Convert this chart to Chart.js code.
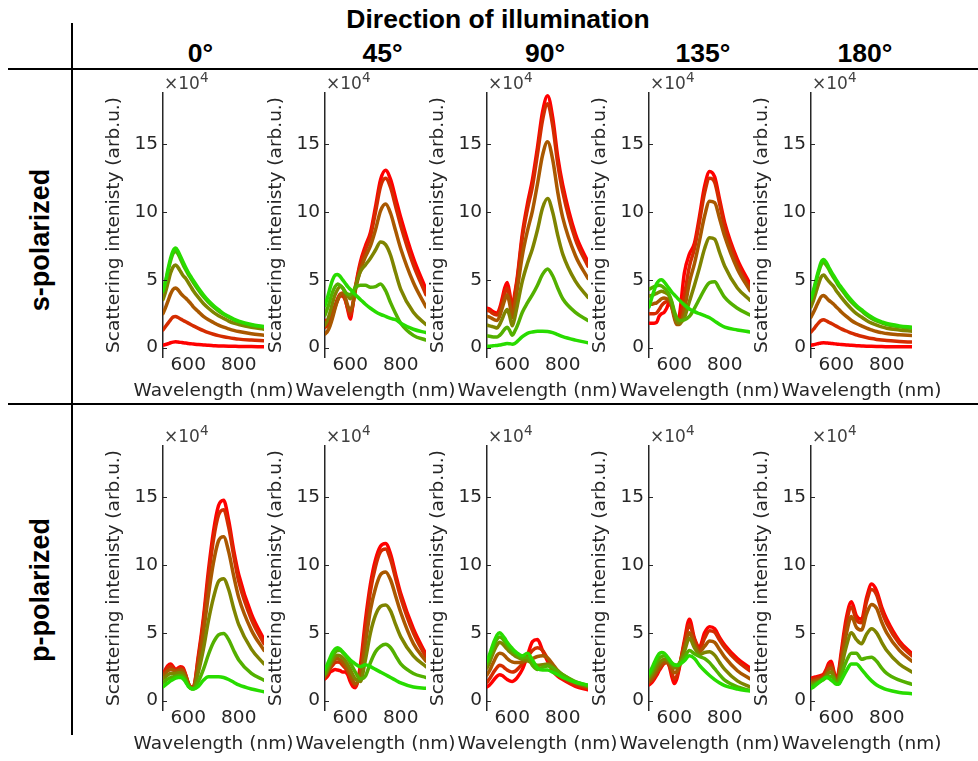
<!DOCTYPE html>
<html><head><meta charset="utf-8">
<script src="https://cdn.jsdelivr.net/npm/chart.js@4.4.1/dist/chart.umd.min.js"></script>
<style>
html,body{margin:0;padding:0;background:#fff;}
#root{position:relative;width:978px;height:761px;overflow:hidden;background:#fff;}
.hd{position:absolute;font-family:"Liberation Sans",Arial,sans-serif;font-weight:bold;color:#000;white-space:nowrap;transform:translate(-50%,-50%);line-height:1;font-size:26.5px;}
.rl{position:absolute;font-family:"Liberation Sans",Arial,sans-serif;font-weight:bold;color:#000;white-space:nowrap;transform:translate(-50%,-50%) rotate(-90deg);line-height:1;font-size:27px;}
.xt{position:absolute;font-family:"DejaVu Sans";font-size:18.5px;color:#262626;white-space:nowrap;transform:translate(-50%,-50%);line-height:1;}
.ex{position:absolute;font-family:"DejaVu Sans";font-size:17px;color:#404040;white-space:nowrap;line-height:17px;}
.ex span{font-size:13.5px;position:relative;top:-7px;}
.ln{position:absolute;background:#000;}
canvas{position:absolute;}
</style></head><body><div id="root"></div><script>
const wavelengths=[500,510,520,530,540,550,560,570,580,590,600,610,620,640,660,680,700,720,740,760,780,800,850,900];
const directions=['0°','45°','90°','135°','180°'];
const polarizations=['s-polarized','p-polarized'];
const yTicks=[0,5,10,15];
const xTicks=[600,800];

const sPol0=[
[0.18,0.22,0.28,0.35,0.40,0.42,0.40,0.38,0.35,0.33,0.30,0.28,0.26,0.22,0.19,0.16,0.14,0.12,0.11,0.10,0.09,0.08,0.07,0.06],
[1.30,1.55,1.80,2.05,2.25,2.30,2.22,2.10,2.00,1.90,1.80,1.70,1.60,1.42,1.25,1.10,0.98,0.88,0.80,0.73,0.67,0.62,0.55,0.50],
[2.50,2.95,3.45,3.95,4.30,4.40,4.25,4.00,3.80,3.65,3.45,3.25,3.00,2.65,2.30,2.05,1.85,1.65,1.50,1.38,1.27,1.18,1.02,0.90],
[3.55,4.10,4.80,5.50,5.95,6.10,5.90,5.60,5.30,5.10,4.80,4.50,4.20,3.70,3.25,2.90,2.60,2.35,2.15,1.95,1.80,1.70,1.50,1.35],
[4.10,4.80,5.65,6.40,6.95,7.10,6.90,6.50,6.10,5.75,5.40,5.10,4.80,4.25,3.75,3.35,3.00,2.70,2.45,2.25,2.05,1.90,1.65,1.50],
[4.20,4.90,5.80,6.60,7.15,7.35,7.10,6.70,6.30,5.90,5.55,5.25,4.95,4.40,3.90,3.45,3.10,2.80,2.50,2.30,2.10,1.95,1.70,1.55]];
const sPol45=[
[2.0,2.0,2.2,2.6,3.1,3.6,3.95,4.0,3.6,2.8,2.1,3.1,4.4,6.3,7.5,8.5,10.4,12.4,13.1,12.4,11.0,9.6,6.6,4.3],
[1.5,1.6,1.9,2.4,3.0,3.5,3.8,3.8,3.5,2.9,2.4,3.1,4.3,6.1,7.2,8.2,10.0,11.9,12.5,11.8,10.4,9.0,6.1,3.9],
[1.0,1.2,1.6,2.2,2.9,3.5,3.9,4.0,3.7,3.1,2.7,3.2,4.2,5.7,6.7,7.5,8.7,10.1,10.6,9.9,8.6,7.3,4.8,3.0],
[1.65,2.0,2.6,3.3,3.9,4.3,4.5,4.4,4.1,3.8,3.6,3.9,4.5,5.6,6.1,6.6,7.2,7.8,7.6,6.8,5.5,4.3,2.6,1.7],
[2.4,2.9,3.5,4.1,4.5,4.7,4.6,4.4,4.1,3.95,3.9,4.1,4.4,4.6,4.6,4.45,4.5,4.7,4.2,3.3,2.5,1.8,0.9,0.55],
[3.1,3.7,4.4,5.0,5.35,5.4,5.25,5.0,4.75,4.5,4.3,4.1,3.9,3.55,3.2,2.9,2.65,2.45,2.3,2.15,2.05,1.8,1.35,1.1]];
const sPol90=[
[2.9,2.85,2.7,2.6,2.55,2.9,3.6,4.4,4.8,4.0,2.9,4.0,5.2,8.4,10.6,12.4,14.8,17.4,18.6,17.0,14.1,12.0,8.4,6.3],
[2.75,2.7,2.55,2.45,2.4,2.7,3.3,4.0,4.4,3.7,2.7,3.8,5.0,8.1,10.2,11.9,14.3,16.8,18.0,16.4,13.6,11.5,8.0,6.0],
[2.3,2.25,2.15,2.05,2.0,2.3,2.9,3.5,3.9,3.2,2.2,3.1,4.3,6.8,8.6,10.1,12.1,14.2,15.2,13.9,11.5,9.6,6.8,5.1],
[1.65,1.6,1.55,1.5,1.45,1.7,2.1,2.55,2.8,2.3,1.6,2.2,3.1,4.9,6.2,7.3,8.7,10.3,11.0,10.0,8.3,6.9,4.9,3.7],
[0.85,0.83,0.8,0.78,0.77,0.9,1.1,1.35,1.5,1.25,0.9,1.2,1.6,2.6,3.3,3.9,4.6,5.4,5.8,5.3,4.4,3.6,2.6,2.0],
[0.1,0.1,0.12,0.14,0.15,0.18,0.22,0.26,0.3,0.28,0.25,0.3,0.45,0.8,1.05,1.15,1.2,1.2,1.18,1.1,0.95,0.8,0.55,0.35]];
const sPol135=[
[1.8,1.8,1.8,1.85,2.3,2.5,2.6,2.9,3.3,3.0,2.4,1.8,2.3,5.5,6.9,7.7,9.7,11.9,13.0,12.6,10.9,9.2,6.5,4.7],
[2.5,2.5,2.5,2.55,2.8,3.1,3.3,3.4,3.5,3.2,2.4,1.8,1.9,3.8,6.0,7.3,9.3,11.4,12.5,12.2,10.6,8.9,6.2,4.4],
[3.2,3.2,3.25,3.3,3.45,3.6,3.65,3.6,3.5,3.0,2.2,1.7,1.7,2.8,4.8,6.2,7.9,9.7,10.8,10.7,9.5,8.2,5.8,4.2],
[3.8,3.85,3.9,4.0,4.1,4.15,4.1,4.0,3.8,3.3,2.5,1.9,1.8,2.2,3.4,4.6,5.9,7.3,8.1,8.0,7.0,6.0,4.4,3.5],
[4.3,4.4,4.5,4.55,4.6,4.55,4.4,4.2,3.9,3.4,2.7,2.2,2.0,2.05,2.3,2.9,3.6,4.3,4.8,4.85,4.3,3.7,2.9,2.4],
[3.0,3.6,4.2,4.7,4.95,5.0,4.85,4.6,4.35,4.1,3.9,3.7,3.5,3.15,2.85,2.65,2.5,2.35,2.2,1.95,1.7,1.5,1.3,1.15]];
const sPol180=[
[0.17,0.2,0.25,0.3,0.34,0.35,0.34,0.32,0.3,0.28,0.26,0.24,0.22,0.19,0.16,0.14,0.12,0.1,0.09,0.08,0.07,0.065,0.055,0.05],
[1.15,1.35,1.6,1.82,2.0,2.05,1.98,1.87,1.78,1.68,1.58,1.48,1.38,1.22,1.06,0.94,0.83,0.74,0.66,0.6,0.55,0.51,0.45,0.4],
[2.25,2.6,3.0,3.4,3.75,3.85,3.7,3.5,3.35,3.2,3.0,2.82,2.63,2.3,2.0,1.78,1.6,1.43,1.3,1.18,1.1,1.03,0.95,0.88],
[3.0,3.5,4.1,4.7,5.2,5.35,5.15,4.9,4.7,4.5,4.2,3.95,3.7,3.25,2.85,2.5,2.25,2.0,1.8,1.65,1.52,1.42,1.3,1.2],
[3.5,4.1,4.85,5.55,6.1,6.3,6.1,5.8,5.45,5.15,4.85,4.55,4.3,3.8,3.35,3.0,2.7,2.4,2.15,1.97,1.83,1.7,1.53,1.42],
[3.6,4.25,5.0,5.7,6.3,6.5,6.3,5.95,5.6,5.3,5.0,4.7,4.45,3.95,3.5,3.1,2.8,2.5,2.25,2.05,1.9,1.77,1.6,1.5]];
const pPol0=[
[2.0,2.3,2.6,2.7,2.5,2.3,2.4,2.5,2.4,1.9,1.3,1.0,1.0,3.3,6.1,9.6,12.5,14.4,14.8,13.3,11.1,9.3,6.4,4.5],
[1.9,2.2,2.45,2.55,2.4,2.25,2.3,2.4,2.3,1.85,1.3,1.0,1.0,3.1,5.8,9.1,11.9,13.7,14.1,12.8,10.7,8.8,6.0,4.2],
[1.8,2.0,2.2,2.3,2.25,2.15,2.2,2.25,2.15,1.75,1.25,0.95,0.95,2.7,5.0,7.8,10.2,11.8,12.1,11.0,9.2,7.6,5.2,3.7],
[1.6,1.75,1.9,2.0,2.0,2.0,2.05,2.05,1.95,1.6,1.15,0.9,0.9,2.1,3.8,5.9,7.6,8.8,9.0,8.2,6.8,5.6,3.8,2.7],
[1.3,1.45,1.6,1.7,1.75,1.8,1.85,1.85,1.75,1.45,1.1,0.9,0.85,1.4,2.3,3.4,4.3,4.85,4.95,4.5,3.7,3.0,2.0,1.5],
[1.0,1.15,1.3,1.45,1.55,1.65,1.7,1.7,1.6,1.35,1.05,0.9,0.85,1.05,1.5,1.75,1.75,1.75,1.7,1.55,1.35,1.15,0.85,0.65]];
const pPol45=[
[1.6,1.8,2.1,2.2,2.3,2.25,2.2,2.1,2.1,1.9,1.4,1.05,0.95,2.6,5.9,8.6,10.4,11.4,11.6,10.8,9.3,7.9,5.3,3.4],
[1.7,2.0,2.35,2.6,2.8,2.85,2.8,2.6,2.4,2.1,1.7,1.3,1.1,2.2,5.3,8.1,9.9,11.0,11.2,10.4,9.0,7.6,5.0,3.2],
[1.8,2.1,2.5,2.85,3.05,3.1,3.0,2.85,2.6,2.3,1.9,1.5,1.25,1.8,4.2,6.7,8.3,9.3,9.5,8.9,7.7,6.5,4.2,2.9],
[1.9,2.25,2.65,3.0,3.25,3.35,3.3,3.15,2.95,2.65,2.3,1.9,1.6,1.4,3.0,5.0,6.3,6.95,7.05,6.6,5.6,4.7,3.3,2.5],
[2.0,2.4,2.85,3.25,3.55,3.7,3.7,3.55,3.35,3.1,2.8,2.45,2.1,1.6,1.8,2.8,3.6,4.0,4.15,3.9,3.3,2.7,2.0,1.7],
[2.3,2.7,3.15,3.55,3.8,3.9,3.8,3.6,3.4,3.2,3.0,2.85,2.7,2.5,2.65,2.5,2.3,2.1,1.9,1.7,1.5,1.3,1.0,0.9]];
const pPol90=[
[1.0,1.15,1.35,1.6,1.8,1.9,1.85,1.7,1.55,1.45,1.4,1.5,1.7,2.3,3.3,4.35,4.5,3.7,2.9,2.2,1.8,1.55,1.05,0.8],
[1.35,1.6,1.9,2.2,2.45,2.6,2.55,2.4,2.25,2.15,2.1,2.15,2.3,2.7,3.2,3.7,3.9,3.7,3.1,2.45,1.95,1.65,1.15,0.9],
[1.9,2.2,2.6,3.0,3.35,3.5,3.45,3.3,3.1,2.95,2.85,2.8,2.8,2.85,2.95,3.1,3.25,3.3,3.15,2.7,2.2,1.85,1.3,1.0],
[2.4,2.8,3.3,3.75,4.1,4.3,4.2,4.0,3.8,3.6,3.45,3.3,3.2,3.05,2.95,2.75,2.6,2.65,2.7,2.5,2.2,1.9,1.35,1.05],
[2.7,3.15,3.65,4.15,4.55,4.7,4.6,4.35,4.1,3.85,3.65,3.5,3.35,3.15,3.2,2.6,2.3,2.45,2.55,2.4,2.15,1.9,1.4,1.1],
[2.9,3.4,3.95,4.45,4.85,5.0,4.85,4.6,4.3,4.05,3.85,3.65,3.5,3.3,3.5,3.0,2.4,2.25,2.25,2.1,1.9,1.7,1.35,1.15]];
const pPol135=[
[1.15,1.3,1.55,1.85,2.2,2.5,2.75,2.85,2.55,1.8,1.25,1.6,2.4,4.4,6.0,4.6,3.95,5.0,5.45,5.3,4.65,4.1,3.1,2.4],
[1.3,1.45,1.7,2.0,2.3,2.55,2.75,2.8,2.6,2.05,1.6,1.8,2.5,4.2,5.6,4.5,3.8,4.6,5.15,5.05,4.45,3.9,2.9,2.2],
[1.4,1.6,1.85,2.15,2.45,2.7,2.85,2.85,2.7,2.35,2.05,2.15,2.6,3.9,5.0,4.2,3.6,4.0,4.4,4.3,3.75,3.2,2.2,1.6],
[1.6,1.85,2.15,2.45,2.75,2.95,3.05,3.0,2.85,2.6,2.4,2.45,2.7,3.6,4.6,3.9,3.4,3.55,3.6,3.35,2.8,2.3,1.45,1.0],
[1.8,2.1,2.45,2.8,3.1,3.25,3.3,3.2,3.0,2.75,2.6,2.6,2.75,3.2,3.7,3.45,3.25,3.1,2.8,2.35,1.9,1.5,1.0,0.75],
[2.0,2.35,2.75,3.15,3.45,3.55,3.5,3.3,3.05,2.8,2.65,2.6,2.65,2.95,3.3,3.1,2.6,2.2,1.85,1.55,1.3,1.1,0.85,0.7]];
const pPol180=[
[1.65,1.7,1.75,1.8,1.85,1.95,2.3,2.75,2.9,2.2,1.5,2.2,3.6,6.1,7.3,6.25,6.0,7.6,8.6,8.1,6.9,6.0,4.4,3.45],
[1.55,1.6,1.65,1.7,1.75,1.85,2.15,2.55,2.65,2.05,1.45,2.05,3.3,5.7,6.9,5.95,5.75,7.3,8.2,7.8,6.6,5.7,4.2,3.3],
[1.4,1.45,1.5,1.55,1.6,1.7,1.95,2.3,2.4,1.9,1.4,1.8,2.9,4.9,6.2,5.4,5.2,6.4,7.1,6.8,5.8,5.0,3.7,2.9],
[1.25,1.3,1.35,1.4,1.5,1.6,1.8,2.05,2.1,1.75,1.35,1.6,2.4,4.0,5.0,4.5,4.2,4.9,5.3,5.0,4.3,3.7,2.7,2.1],
[1.1,1.15,1.25,1.35,1.45,1.55,1.7,1.8,1.8,1.6,1.3,1.4,1.9,2.9,3.5,3.5,3.05,3.15,3.2,2.9,2.4,2.0,1.5,1.2],
[0.9,1.0,1.15,1.3,1.45,1.6,1.7,1.65,1.5,1.35,1.2,1.2,1.5,2.2,2.7,2.7,2.3,1.85,1.45,1.15,0.95,0.8,0.6,0.5]];

const panelData=[[sPol0,sPol45,sPol90,sPol135,sPol180],[pPol0,pPol45,pPol90,pPol135,pPol180]];
const lineColors=['rgb(255,0,0)','rgb(212,44,0)','rgb(169,88,0)','rgb(126,132,0)','rgb(83,176,0)','rgb(40,220,0)'];

const root=document.getElementById('root');
function addEl(cls,text,style){const d=document.createElement('div');d.className=cls;if(text!==null)d.textContent=text;Object.assign(d.style,style);root.appendChild(d);return d;}

// frame lines
addEl('ln',null,{left:'8px',top:'68.3px',width:'970px',height:'2px'});
addEl('ln',null,{left:'8px',top:'403px',width:'970px',height:'2px'});
addEl('ln',null,{left:'71px',top:'22.7px',width:'1.5px',height:'712px'});

// headers
addEl('hd','Direction of illumination',{left:'498px',top:'19px'});
const dirCenters=[200.5,382.5,545,703,865];
directions.forEach((d,i)=>addEl('hd',d,{left:dirCenters[i]+'px',top:'53px'}));
addEl('rl',polarizations[0],{left:'40px',top:'240px'});
addEl('rl',polarizations[1],{left:'40px',top:'590px'});

const axisX0=163.3, dxCol=161.85, rowTop=[93,446], plotH=264, yMin=-0.7, yMax=18.8;
const CW=225, yW=60, xH=30, padTop=10;

const innerTicks={id:'innerTicks',afterDraw(chart){const {ctx,chartArea,scales}=chart;const y=scales.y;ctx.save();ctx.strokeStyle='#262626';ctx.lineWidth=1;y.ticks.forEach(t=>{const py=Math.round(y.getPixelForValue(t.value))+0.5;ctx.beginPath();ctx.moveTo(chartArea.left,py);ctx.lineTo(chartArea.left+4,py);ctx.stroke();});ctx.restore();}};

for(let r=0;r<2;r++){
  for(let c=0;c<5;c++){
    const axisX=Math.round(axisX0+dxCol*c);
    const cv=document.createElement('canvas');
    cv.width=CW;cv.height=padTop+plotH+xH;
    cv.style.left=(axisX-yW)+'px';cv.style.top=(rowTop[r]-padTop)+'px';
    root.appendChild(cv);
    const series=panelData[r][c];
    const datasets=series.map((vals,j)=>({
      data:wavelengths.map((w,k)=>({x:w,y:vals[k]})),
      borderColor:lineColors[j],borderWidth:3.5,pointRadius:0,fill:false,
      cubicInterpolationMode:'monotone',order:5-j,borderCapStyle:'round',borderJoinStyle:'round'
    }));
    new Chart(cv,{type:'line',data:{datasets},plugins:[innerTicks],options:{
      responsive:false,animation:false,devicePixelRatio:1,events:[],
      layout:{padding:{left:0,right:CW-yW-101,top:padTop,bottom:0}},
      plugins:{legend:{display:false},tooltip:{enabled:false}},
      scales:{
        x:{type:'linear',min:500,max:900,
          afterBuildTicks(s){s.ticks=xTicks.map(v=>({value:v}));},
          afterFit(s){s.height=xH;s.paddingLeft=0;s.paddingRight=0;},
          grid:{display:false,drawTicks:false},border:{display:false},
          ticks:{color:'#262626',font:{family:'DejaVu Sans',size:18.5,lineHeight:1},padding:-1,maxRotation:0,autoSkip:false},
          title:{display:false}},
        y:{type:'linear',min:yMin,max:yMax,position:'left',
          afterBuildTicks(s){s.ticks=yTicks.map(v=>({value:v}));},
          afterFit(s){s.width=yW;s.paddingTop=0;s.paddingBottom=0;},
          grid:{display:false,drawTicks:false},border:{display:true,color:'#262626',width:1.5},
          ticks:{color:'#262626',font:{family:'DejaVu Sans',size:18.5},padding:5,autoSkip:false},
          title:{display:true,text:'Scattering intenisty (arb.u.)',color:'#262626',font:{family:'DejaVu Sans',size:18.5},padding:{top:0,bottom:0}}}
      }}});
    const ex=addEl('ex',null,{left:(axisX+1)+'px',top:(rowTop[r]-18)+'px'});
    ex.innerHTML='×10<span>4</span>';
    addEl('xt','Wavelength (nm)',{left:(axisX+50.5)+'px',top:(rowTop[r]+297)+'px'});
  }
}
</script></body></html>
